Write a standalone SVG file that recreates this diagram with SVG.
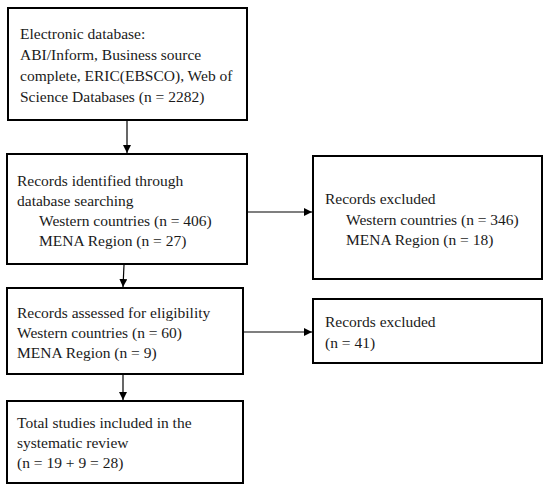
<svg xmlns="http://www.w3.org/2000/svg" width="550" height="491" viewBox="0 0 550 491">
<style>
.box{fill:#fff;stroke:#000;stroke-width:2}
.t{font-family:"Liberation Serif","DejaVu Serif",serif;font-size:15.5px;fill:#1a1a1a}
.c{stroke:#000;stroke-width:1.2;fill:none}
</style>
<defs>
<marker id="ah" viewBox="0 0 10 10" refX="10" refY="5" markerWidth="8" markerHeight="8" markerUnits="userSpaceOnUse" orient="auto">
<path d="M0,0 L10,5 L0,10 Z" fill="#000"/>
</marker>
</defs>
<rect width="550" height="491" fill="#fff"/>
<g id="connectors">
<line class="c" x1="127" y1="121" x2="127" y2="153" marker-end="url(#ah)"/>
<line class="c" x1="247" y1="212" x2="312" y2="212" marker-end="url(#ah)"/>
<line class="c" x1="124" y1="265" x2="123" y2="287" marker-end="url(#ah)"/>
<line class="c" x1="243" y1="332" x2="312" y2="332" marker-end="url(#ah)"/>
<line class="c" x1="123" y1="375" x2="123" y2="400" marker-end="url(#ah)"/>
</g>
<g id="n1">
<rect class="box" x="8" y="8" width="239" height="112"/>
<text class="t" x="20" y="39">Electronic database:</text>
<text class="t" x="20" y="60">ABI/Inform, Business source</text>
<text class="t" x="20" y="81">complete, ERIC(EBSCO), Web of</text>
<text class="t" x="20" y="102">Science Databases (n = 2282)</text>
</g>
<g id="n2">
<rect class="box" x="7" y="154" width="240" height="110"/>
<text class="t" x="17" y="186">Records identified through</text>
<text class="t" x="17" y="206">database searching</text>
<text class="t" x="39" y="226">Western countries (n = 406)</text>
<text class="t" x="39" y="246">MENA Region (n = 27)</text>
</g>
<g id="n3">
<rect class="box" x="313" y="156" width="229" height="123"/>
<text class="t" x="325" y="204">Records excluded</text>
<text class="t" x="346" y="225">Western countries (n = 346)</text>
<text class="t" x="346" y="245">MENA Region (n = 18)</text>
</g>
<g id="n4">
<rect class="box" x="7" y="288" width="236" height="86"/>
<text class="t" x="17" y="318">Records assessed for eligibility</text>
<text class="t" x="17" y="338">Western countries (n = 60)</text>
<text class="t" x="17" y="358">MENA Region (n = 9)</text>
</g>
<g id="n5">
<rect class="box" x="313" y="299" width="229" height="64"/>
<text class="t" x="325" y="327">Records excluded</text>
<text class="t" x="325" y="348">(n = 41)</text>
</g>
<g id="n6">
<rect class="box" x="7" y="401" width="236" height="82"/>
<text class="t" x="17" y="428">Total studies included in the</text>
<text class="t" x="17" y="448">systematic review</text>
<text class="t" x="17" y="468">(n = 19 + 9 = 28)</text>
</g>
</svg>
